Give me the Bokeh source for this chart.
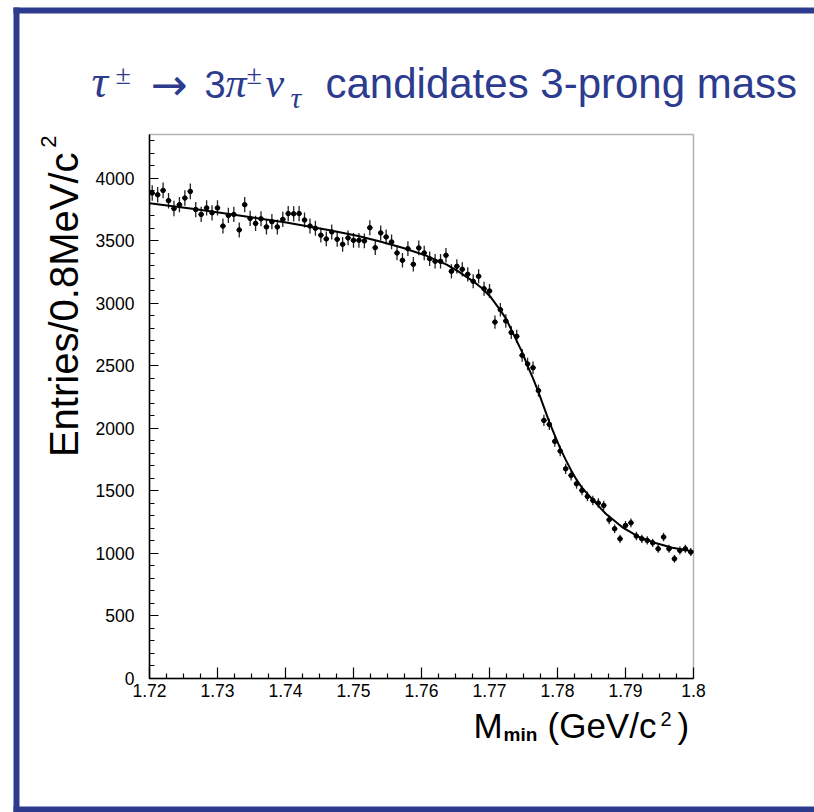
import numpy as np
from bokeh.plotting import figure
from bokeh.models import (Label, BoxAnnotation, FixedTicker, CustomJSTickFormatter,
                          ColumnDataSource, Range1d)
from bokeh.embed import file_html
from bokeh.resources import INLINE

# ---------------- data ----------------
bin_lo = 1.72
bin_width = 0.0008
counts = [3882, 3868, 3903, 3821, 3758, 3789, 3842, 3895, 3750, 3711,
          3763, 3724, 3763, 3618, 3703, 3711, 3587, 3789, 3679, 3639,
          3676, 3611, 3653, 3611, 3671, 3718, 3716, 3718, 3666, 3618,
          3600, 3545, 3515, 3571, 3512, 3472, 3523, 3504, 3504, 3499,
          3605, 3445, 3563, 3531, 3491, 3403, 3344, 3437, 3312, 3443,
          3403, 3357, 3336, 3336, 3384, 3256, 3296, 3272, 3232, 3176,
          3216, 3117, 3099, 2850, 2949, 2859, 2767, 2736, 2584, 2515,
          2485, 2302, 2064, 2032, 1896, 1819, 1677, 1624, 1557, 1504,
          1456, 1424, 1403, 1384, 1269, 1197, 1117, 1224, 1245, 1139,
          1117, 1104, 1085, 1037, 1131, 1037, 957, 1024, 1037, 1011]

fit_mass = [1.7200, 1.7266, 1.7332, 1.7399, 1.7465, 1.7507, 1.7539, 1.7572,
            1.7605, 1.7637, 1.7654, 1.7676, 1.7689, 1.7701, 1.7716, 1.7724,
            1.7732, 1.7740, 1.7748, 1.7756, 1.7764, 1.7772, 1.7780, 1.7788,
            1.7796, 1.7804, 1.7812, 1.7820, 1.7828, 1.7836, 1.7846, 1.7871,
            1.7895, 1.7920, 1.7944, 1.7969, 1.7996, 1.8000]
fit_value = [3800, 3755, 3702, 3648, 3584, 3539, 3495, 3445,
             3385, 3310, 3255, 3176, 3120, 3055, 2944, 2880,
             2790, 2700, 2610, 2500, 2400, 2290, 2170, 2050,
             1945, 1840, 1750, 1665, 1590, 1525, 1464, 1317,
             1211, 1131, 1083, 1045, 1019, 1015]

x_min, x_max = 1.72, 1.80
y_min, y_max = 0, 4350
x_tick_values = [1.72, 1.73, 1.74, 1.75, 1.76, 1.77, 1.78, 1.79, 1.80]
x_tick_labels = ["1.72", "1.73", "1.74", "1.75", "1.76", "1.77", "1.78", "1.79", "1.8"]
y_tick_values = [0, 500, 1000, 1500, 2000, 2500, 3000, 3500, 4000]
y_tick_labels = ["0", "500", "1000", "1500", "2000", "2500", "3000", "3500", "4000"]

title_rest = "candidates 3-prong mass"
y_title = "Entries/0.8MeV/c"
x_title_main = "M"
x_title_sub = "min"
x_title_rest = "(GeV/c"

BLUE = "#2c3b8e"

# ---------------- derived ----------------
counts_a = np.array(counts, dtype=float)
centers = bin_lo + bin_width * (np.arange(len(counts)) + 0.5)
err = np.sqrt(counts_a)
src = ColumnDataSource(dict(x=centers, y=counts_a, ylo=counts_a - err, yhi=counts_a + err,
                            xlo=centers - bin_width / 2, xhi=centers + bin_width / 2))

# placement of the plot box on the canvas (pixels)
W, H = 814, 812
FL, FR, FT, FB = 149, 693, 134, 678
xs = (FR - FL) / (x_max - x_min)      # px per unit
ys = (FB - FT) / (y_max - y_min)
x_range = Range1d(x_min - FL / xs, x_max + (W - FR) / xs)
y_range = Range1d(y_min - (H - FB) / ys, y_max + FT / ys)

p = figure(width=W, height=H, output_backend="svg", toolbar_location=None,
           x_range=x_range, y_range=y_range, title=None,
           min_border_left=0, min_border_right=0, min_border_top=0, min_border_bottom=0)
p.background_fill_color = "white"
p.border_fill_color = "white"
p.outline_line_color = None
p.grid.visible = False

# ticks
x_minor = []
for a, b in zip(x_tick_values[:-1], x_tick_values[1:]):
    for k in range(1, 4):
        x_minor.append(a + (b - a) * k / 4)
y_minor = [v for v in range(0, 4400, 100)]

fmt_code = """
let best = 0;
for (let i = 0; i < vals.length; i++) {
  if (Math.abs(vals[i] - tick) < Math.abs(vals[best] - tick)) best = i;
}
return labs[best];
"""
xa = p.xaxis[0]
xa.ticker = FixedTicker(ticks=x_tick_values, minor_ticks=x_minor)
xa.formatter = CustomJSTickFormatter(args=dict(vals=x_tick_values, labs=x_tick_labels), code=fmt_code)
xa.fixed_location = y_min
xa.bounds = (x_min, x_max)
ya = p.yaxis[0]
ya.ticker = FixedTicker(ticks=y_tick_values, minor_ticks=y_minor)
ya.formatter = CustomJSTickFormatter(args=dict(vals=y_tick_values, labs=y_tick_labels), code=fmt_code)
ya.fixed_location = x_min
ya.bounds = (y_min, y_max)

for ax, maj in ((xa, 11), (ya, 9)):
    ax.major_tick_in = maj
    ax.major_tick_out = 0
    ax.minor_tick_in = 5
    ax.minor_tick_out = 0
    ax.axis_line_width = 1.5
    ax.axis_line_color = "black"
    ax.major_tick_line_width = 1.2
    ax.minor_tick_line_width = 1.2
    ax.major_tick_line_color = "black"
    ax.minor_tick_line_color = "black"
    ax.major_label_text_font = "Liberation Sans"
    ax.major_label_text_font_size = "17.5px"
    ax.major_label_text_color = "black"
xa.major_label_standoff = 5
ya.major_label_standoff = 15

# plot box (top and right edges)
p.add_layout(BoxAnnotation(left=x_min, right=x_max, bottom=y_min, top=y_max,
                           fill_alpha=0, line_color="black", line_width=1.5))

# data
p.segment("x", "ylo", "x", "yhi", source=src, line_color="#222222", line_width=1.3)
p.segment("xlo", "y", "xhi", "y", source=src, line_color="#222222", line_width=1.3)
p.scatter("x", "y", source=src, size=4.5, color="black")
p.line(fit_mass, fit_value, line_color="black", line_width=2)

SHIFT = 0.34  # baseline correction (fraction of font size)


def lab(text, cx, cy, size, font="Liberation Sans", style="normal", color="black",
        align="left", rotated=False):
    if rotated:
        ax_, ay_ = cx - SHIFT * size, cy
        ang = np.pi / 2
    else:
        ax_, ay_ = cx, cy - SHIFT * size
        ang = 0.0
    return Label(x=ax_, y=H - ay_, x_units="screen", y_units="screen", text=text,
                 text_font=font, text_font_size=f"{size}px", text_font_style=style,
                 text_color=color, text_align=align, text_baseline="alphabetic", angle=ang)


# blue slide frame
for l, r, t, b in ((13, W, 7, 13), (13, 19, 7, H), (13, W, 806, H)):
    p.add_layout(BoxAnnotation(left=l, right=r, top=H - t, bottom=H - b,
                               left_units="screen", right_units="screen",
                               top_units="screen", bottom_units="screen",
                               fill_color=BLUE, fill_alpha=1.0, line_alpha=0.0))

# title pieces
SERIF = "Liberation Serif"
for txt, cx, cy, sz, font, style in (
        ("τ", 91, 97, 46, SERIF, "italic"),
        ("±", 115, 84, 28, SERIF, "normal"),
        ("→", 150, 99, 44, "DejaVu Sans", "normal"),
        ("3", 204, 97, 38, "Liberation Sans", "normal"),
        ("π", 225, 97, 42, SERIF, "italic"),
        ("±", 246, 84, 28, SERIF, "normal"),
        ("ν", 265, 97, 42, SERIF, "italic"),
        ("τ", 290, 107, 30, SERIF, "italic"),
        (title_rest, 325, 97, 42, "Liberation Sans", "normal")):
    p.add_layout(lab(txt, cx, cy, sz, font=font, style=style, color=BLUE))

# y-axis title (rotated)
p.add_layout(lab(y_title, 77, 152, 40, align="right", rotated=True))
p.add_layout(lab("2", 55, 135, 22, align="right", rotated=True))

# x-axis title
p.add_layout(lab(x_title_main, 473, 737, 35))
p.add_layout(lab(x_title_sub, 503, 740, 19, style="bold"))
p.add_layout(lab(x_title_rest, 547, 737, 35))
p.add_layout(lab("2", 660, 725, 20))
p.add_layout(lab(")", 677, 737, 35))

open("out.html", "w").write(file_html(p, INLINE))
